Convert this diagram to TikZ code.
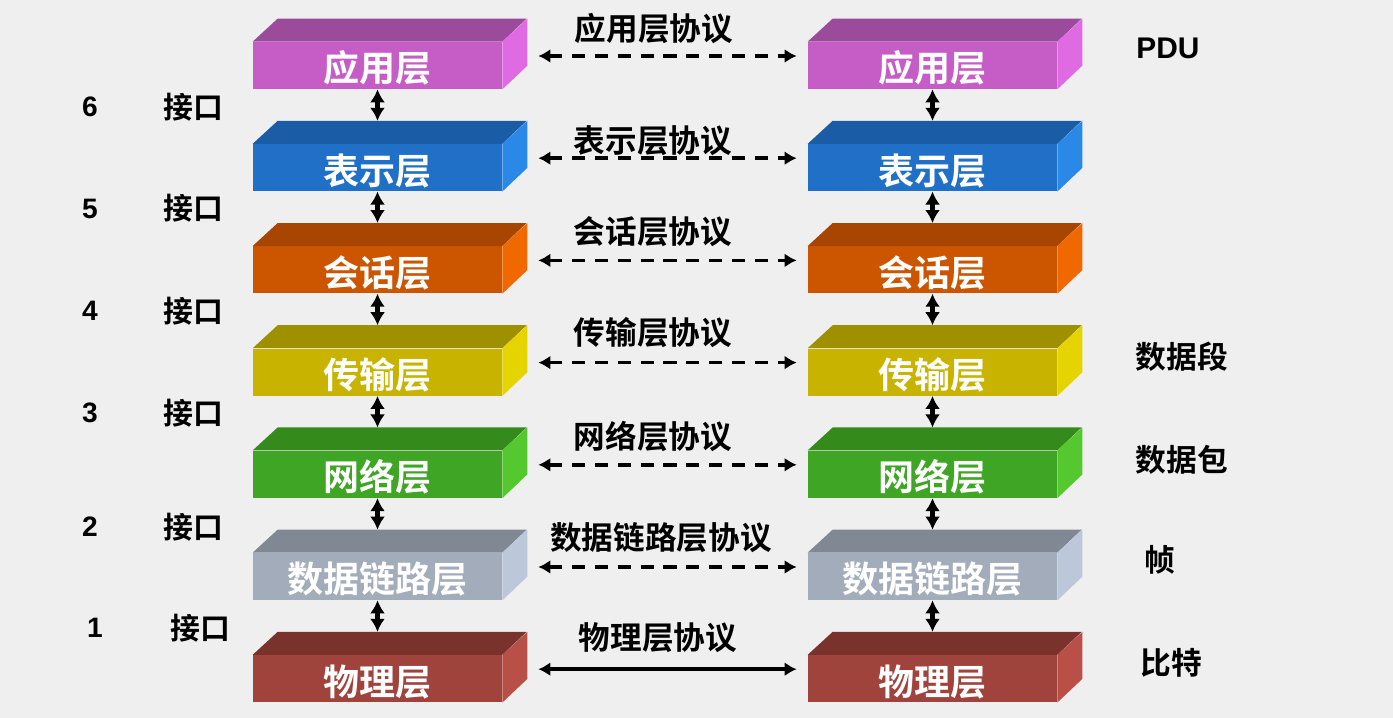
\documentclass[tikz,border=0pt]{standalone}
\usepackage{fontspec}
\setmainfont{Liberation Sans}
\newfontfamily\cjk[BoldFont={Noto Sans CJK SC Bold}]{Noto Sans CJK SC}
\usepackage{tikz}
\usetikzlibrary{arrows.meta,positioning,calc}
\definecolor{bg}{HTML}{EFEFEF}
\definecolor{appf}{HTML}{C65CC6}
\definecolor{appt}{HTML}{9C4A9C}
\definecolor{apps}{HTML}{E06AE2}
\definecolor{pref}{HTML}{2070C8}
\definecolor{pret}{HTML}{1B5CA6}
\definecolor{pres}{HTML}{2A88E6}
\definecolor{sesf}{HTML}{CC5500}
\definecolor{sest}{HTML}{A84500}
\definecolor{sess}{HTML}{F06800}
\definecolor{traf}{HTML}{C8B400}
\definecolor{trat}{HTML}{9E9000}
\definecolor{tras}{HTML}{E6D400}
\definecolor{netf}{HTML}{3FA524}
\definecolor{nett}{HTML}{358A1C}
\definecolor{nets}{HTML}{55C830}
\definecolor{dlf}{HTML}{A2ACBA}
\definecolor{dlt}{HTML}{808894}
\definecolor{dls}{HTML}{BCC8DA}
\definecolor{phyf}{HTML}{A0433C}
\definecolor{phyt}{HTML}{7A322C}
\definecolor{phys}{HTML}{B85048}
\tikzset{
  layer/.style={fill=#1,minimum width=4.98cm,minimum height=0.94cm,inner sep=0pt,text=white,text height=21pt,text depth=2.4pt,font=\cjk\bfseries\fontsize{20.5}{24}\selectfont},
  proto/.style={font=\cjk\bfseries\fontsize{18}{22}\selectfont,text=black,inner sep=0pt},
  port/.style={font=\cjk\bfseries\fontsize{17}{20}\selectfont,text=black,inner sep=0pt},
  pdulbl/.style={font=\cjk\bfseries\fontsize{17.5}{21}\selectfont,text=black,inner sep=0pt},
  num/.style={font=\bfseries\fontsize{16}{19}\selectfont,text=black,inner sep=0pt},
  vlink/.style={{Latex[length=2.6mm,width=3mm]}-{Latex[length=2.6mm,width=3mm]},line width=2.3pt},
  plink/.style={{Latex[length=2.4mm,width=2.8mm]}-{Latex[length=2.4mm,width=2.8mm]},line width=2.1pt},
  dashes/.style={dash pattern=on 7.5pt off 5.5pt},
}
\newcommand{\layerbox}[6]{%
  \node[layer=#4] (#1) at (#2) {#3};
  \fill[#5] (#1.north west) -- ++(0.5,0.46) -- ++(4.98,0) -- (#1.north east) -- cycle;
  \fill[#6] (#1.north east) -- ++(0.5,0.46) -- ++(0,-0.94) -- (#1.south east) -- cycle;
}

\begin{document}
\begin{tikzpicture}[x=1cm,y=1cm]
  \fill[bg] (0,0) rectangle (27.86,-14.36);
  \useasboundingbox (0,0) rectangle (27.86,-14.36);
  % the two stacks
  \foreach \n/\txt/\fc/\tc/\sc [count=\i from 0] in {app/应用层/appf/appt/apps,pre/表示层/pref/pret/pres,ses/会话层/sesf/sest/sess,tra/传输层/traf/trat/tras,net/网络层/netf/nett/nets,dl/数据链路层/dlf/dlt/dls,phy/物理层/phyf/phyt/phys} {
    \pgfmathsetmacro\yy{-1.31-2.044*\i}
    \layerbox{L\n}{7.55,\yy}{\txt}{\fc}{\tc}{\sc}
    \layerbox{R\n}{18.65,\yy}{\txt}{\fc}{\tc}{\sc}
  }
  % interfaces
  \foreach \a/\b in {app/pre,pre/ses,ses/tra,tra/net,net/dl,dl/phy} {
    \draw[vlink] (L\a.south) -- ([yshift=0.46cm]L\b.north);
    \draw[vlink] (R\a.south) -- ([yshift=0.46cm]R\b.north);
  }
  % peer protocols
  \foreach \n in {app,pre,ses,tra,net,dl}
    \draw[plink,dashes] ([xshift=0.72cm,yshift=0.19cm]L\n.east) -- ([xshift=-0.22cm,yshift=0.19cm]R\n.west);
  \draw[plink] ([xshift=0.72cm,yshift=0.19cm]Lphy.east) -- ([xshift=-0.22cm,yshift=0.19cm]Rphy.west);
  \node[proto] (Papp) at (13.08,-0.57) {应用层协议};
  \node[proto] (Ppre) at (13.06,-2.82) {表示层协议};
  \node[proto] (Pses) at (13.06,-4.64) {会话层协议};
  \node[proto] (Ptra) at (13.06,-6.66) {传输层协议};
  \node[proto] (Pnet) at (13.06,-8.72) {网络层协议};
  \node[proto] (Pdl) at (13.22,-10.76) {数据链路层协议};
  \node[proto] (Pphy) at (13.16,-12.76) {物理层协议};
  % interface numbers
  \foreach \k/\y in {6/-2.14,5/-4.17,4/-6.22,3/-8.26,2/-10.54} {
    \node[num] (n\k) at (1.8,\y) {\k};
    \node[port] (i\k) at (3.86,\y) {接口};
  }
  \node[num] (n1) at (1.9,-12.56) {1};
  \node[port] (i1) at (4.0,-12.56) {接口};
  % PDU column
  \node[num,font=\bfseries\fontsize{17}{20}\selectfont] (pdu) at (23.36,-0.96) {PDU};
  \node[pdulbl] (seg) at (23.64,-7.14) {数据段};
  \node[pdulbl] (pkt) at (23.64,-9.2) {数据包};
  \node[pdulbl] (frm) at (23.2,-11.2) {帧};
  \node[pdulbl] (bit) at (23.42,-13.26) {比特};
\end{tikzpicture}
\end{document}
